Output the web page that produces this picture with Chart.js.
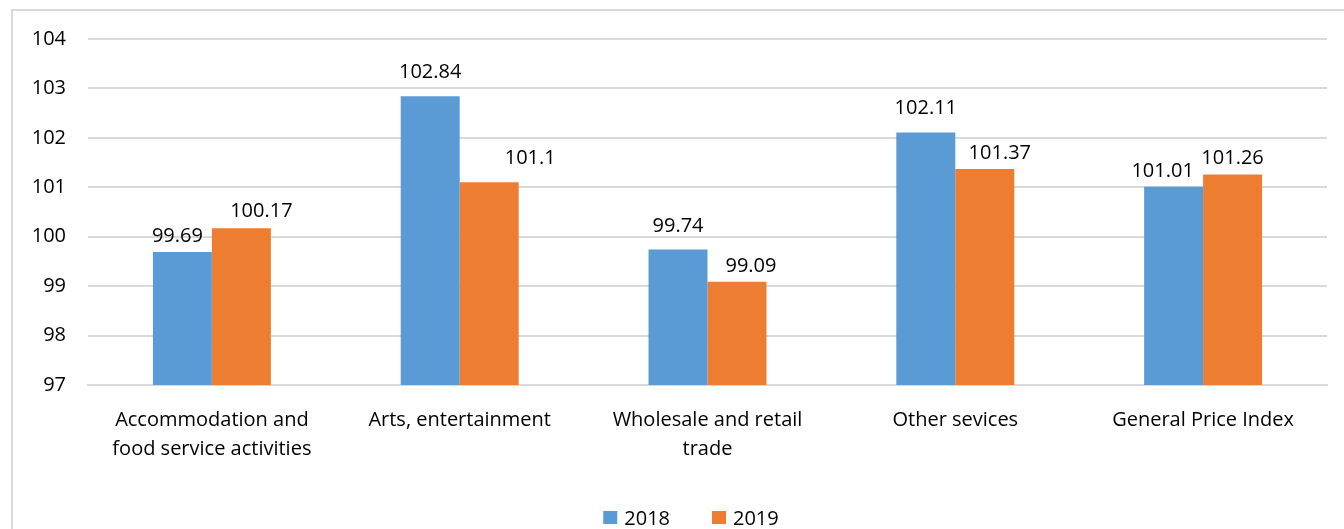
<!DOCTYPE html>
<html>
<head>
<meta charset="utf-8">
<script src="https://cdn.jsdelivr.net/npm/chart.js@4.4.0/dist/chart.umd.min.js"></script>
<style>
  html, body { margin: 0; padding: 0; background: #fff; }
  #wrap { position: relative; width: 1344px; height: 529px; }
  #frame { position: absolute; left: 11px; top: 9px; right: -5px; bottom: -5px;
           border-left: 2px solid #d9d9d9; border-top: 2px solid #d9d9d9; }
  canvas { position: absolute; left: 0; top: 0; }
</style>
</head>
<body>
<div id="wrap">
  <div id="frame"></div>
  <canvas id="chart" width="1344" height="529"></canvas>
</div>
<script>
const categories = [
  ['Accommodation and', 'food service activities'],
  'Arts, entertainment',
  ['Wholesale and retail', 'trade'],
  'Other sevices',
  'General Price Index'
];
const seriesNames = ['2018', '2019'];
const values2018 = [99.69, 102.84, 99.74, 102.11, 101.01];
const values2019 = [100.17, 101.1, 99.09, 101.37, 101.26];
const yTicks = [97, 98, 99, 100, 101, 102, 103, 104];

const FONT = "'Open Sans', 'Liberation Sans', sans-serif";

// hand-placed value labels: [dx, lift above bar top] for each bar
const labelPlacement = [
  [[-5, 10], [0, 18], [0, 18], [0, 18], [-11, 10]],
  [[20, 11], [41, 18], [14, 10], [15, 10], [0, 10]]
];

const barLabels = {
  id: 'barLabels',
  afterDatasetsDraw(chart) {
    const ctx = chart.ctx;
    ctx.save();
    ctx.font = '20px ' + FONT;
    ctx.fillStyle = '#000';
    ctx.textAlign = 'center';
    ctx.textBaseline = 'alphabetic';
    chart.data.datasets.forEach((ds, d) => {
      chart.getDatasetMeta(d).data.forEach((bar, i) => {
        const [dx, lift] = labelPlacement[d][i];
        ctx.fillText(String(ds.data[i]), bar.x + dx, bar.y - lift);
      });
    });
    ctx.restore();
  }
};

// legend row under the axis labels
const bottomLegend = {
  id: 'bottomLegend',
  afterDraw(chart) {
    const ctx = chart.ctx;
    ctx.save();
    ctx.font = '20px ' + FONT;
    ctx.textBaseline = 'alphabetic';
    ctx.textAlign = 'left';
    const box = 14, gap = 7, spacing = 42, baseline = 525;
    const items = chart.data.datasets.map(ds => ({
      text: ds.label, color: ds.backgroundColor, w: ctx.measureText(ds.label).width
    }));
    const total = items.reduce((s, it) => s + box + gap + it.w, 0) + spacing * (items.length - 1);
    let x = 691 - total / 2;
    items.forEach(it => {
      ctx.fillStyle = it.color;
      ctx.fillRect(x, baseline - 14, box, 13);
      ctx.fillStyle = '#000';
      ctx.fillText(it.text, x + box + gap, baseline);
      x += box + gap + it.w + spacing;
    });
    ctx.restore();
  }
};

new Chart(document.getElementById('chart'), {
  type: 'bar',
  data: {
    labels: categories,
    datasets: [
      { label: seriesNames[0], data: values2018, backgroundColor: '#5b9bd5' },
      { label: seriesNames[1], data: values2019, backgroundColor: '#ed7d31' }
    ]
  },
  options: {
    responsive: false,
    animation: false,
    layout: { padding: { top: 39, right: 17, left: 0, bottom: 44 } },
    datasets: { bar: { categoryPercentage: 0.476, barPercentage: 1.0 } },
    scales: {
      x: {
        grid: { display: false, drawTicks: false },
        border: { color: '#d9d9d9', width: 2 },
        ticks: { color: '#000', font: { family: FONT, size: 20, lineHeight: 1.48 }, padding: 20, maxRotation: 0, autoSkip: false },
        afterFit(axis) { axis.height = 100; }
      },
      y: {
        min: 97,
        max: 104,
        afterBuildTicks(axis) { axis.ticks = yTicks.map(v => ({ value: v })); },
        grid: { color: '#d9d9d9', lineWidth: 2, drawTicks: false },
        border: { display: false },
        ticks: { color: '#000', font: { family: FONT, size: 20 }, padding: 22 },
        afterFit(axis) { axis.width = 88; }
      }
    },
    plugins: {
      legend: { display: false },
      tooltip: { enabled: false }
    }
  },
  plugins: [barLabels, bottomLegend]
});
</script>
</body>
</html>
